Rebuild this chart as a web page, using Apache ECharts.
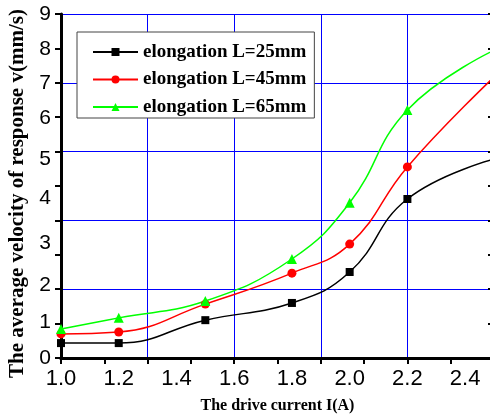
<!DOCTYPE html>
<html>
<head>
<meta charset="utf-8">
<script src="https://cdn.jsdelivr.net/npm/echarts@6/dist/echarts.min.js"></script>
<style>html,body{margin:0;padding:0;background:#fff}#c{width:490px;height:414px}</style>
</head>
<body>
<div id="c"></div>
<script>
// drive current I (A)
const xValues = [1.0, 1.2, 1.5, 1.8, 2.0, 2.2, 2.5];
// average velocity of response v (mm/s)
const velocityL25 = [0.39, 0.39, 0.99, 1.44, 2.25, 4.16, 5.2];
const velocityL45 = [0.63, 0.68, 1.41, 2.22, 2.98, 5.0, 7.35];
const velocityL65 = [0.76, 1.05, 1.49, 2.59, 4.06, 6.49, 8.05];
const seriesNames = ['elongation L=25mm', 'elongation L=45mm', 'elongation L=65mm'];
const xTickLabels = [1.0, 1.2, 1.4, 1.6, 1.8, 2.0, 2.2, 2.4];
const yTickLabels = ['0', '1', '2', '3', '4', '5', '6', '7', '8', '9'];
const yTickLabelAt = [0, 0.94, 1.91, 3.01, 4.19, 5.21, 6.28, 7.19, 8.08, 9];

const chart = echarts.init(document.getElementById('c'), null, {renderer: 'canvas'});

function buildData(ys) {
  return ys.map((y, i) => i === ys.length - 1 ? {value: [xValues[i], y], symbol: 'none'} : [xValues[i], y]);
}
function yLabel(v) {
  let best = 0, d = Infinity;
  yTickLabelAt.forEach((p, i) => { if (Math.abs(p - v) < d) { d = Math.abs(p - v); best = i; } });
  return yTickLabels[best];
}

const axisLineStyle = {color: '#000', width: 3};
const serif = '"Liberation Serif", "Times New Roman", serif';
const sans = '"Liberation Sans", Arial, sans-serif';

const colors = ['#000000', '#ff0000', '#00ff00'];
const symbols = ['rect', 'circle', 'triangle'];
const sizes = [8, 9, 10];
const allY = [velocityL25, velocityL45, velocityL65];

chart.setOption({
  animation: false,
  backgroundColor: '#fff',
  grid: {left: 61, top: 14, right: -4, bottom: 56, containLabel: false, outerBoundsMode: 'none'},
  legend: {
    left: 77, top: 32,
    orient: 'vertical',
    data: seriesNames,
    itemWidth: 45, itemHeight: 10, itemGap: 7.5,
    padding: [10, 8, 1, 15],
    backgroundColor: '#fff',
    borderColor: '#444', borderWidth: 1,
    textStyle: {fontFamily: serif, fontWeight: 'bold', fontSize: 19, color: '#000', lineHeight: 20}
  },
  xAxis: [
    {
      type: 'value', position: 'bottom', min: 1.0, max: 2.5, interval: 0.15,
      axisLine: {lineStyle: axisLineStyle},
      axisTick: {show: true, inside: false, length: 6, lineStyle: {color: '#000', width: 2}},
      axisLabel: {customValues: xTickLabels, formatter: v => v.toFixed(1), margin: 10,
        fontFamily: sans, fontSize: 22, color: '#000'},
      splitLine: {show: false},
      name: 'The drive current I(A)', nameLocation: 'middle', nameGap: 40,
      nameTextStyle: {fontFamily: serif, fontWeight: 'bold', fontSize: 16, color: '#000'}
    },
    {
      type: 'value', position: 'top', min: 1.0, max: 2.5, interval: 0.15,
      axisLine: {lineStyle: axisLineStyle},
      axisTick: {show: true, inside: true, length: 6, lineStyle: {color: '#000', width: 2}},
      axisLabel: {show: false}, splitLine: {show: false}
    },
    {
      type: 'value', position: 'bottom', min: 1.0, max: 2.5, interval: 0.3,
      axisLine: {show: false}, axisTick: {show: false}, axisLabel: {show: false},
      splitLine: {show: true, lineStyle: {color: '#0000ff', width: 1}}
    }
  ],
  yAxis: [
    {
      type: 'value', position: 'left', min: 0, max: 9, interval: 0.9,
      axisLine: {lineStyle: axisLineStyle},
      axisTick: {show: true, inside: false, length: 6, lineStyle: {color: '#000', width: 2}},
      axisLabel: {customValues: yTickLabelAt, formatter: yLabel, margin: 10,
        fontFamily: sans, fontSize: 21, color: '#000'},
      splitLine: {show: false},
      name: 'The average velocity of response v(mm/s)', nameLocation: 'middle', nameGap: 33,
      nameTextStyle: {fontFamily: serif, fontWeight: 'bold', fontSize: 21, color: '#000', padding: [0, 15, 0, 0]}
    },
    {
      type: 'value', position: 'right', min: 0, max: 9, interval: 0.9,
      axisLine: {lineStyle: axisLineStyle},
      axisTick: {show: true, inside: true, length: 6, lineStyle: {color: '#000', width: 2}},
      axisLabel: {show: false}, splitLine: {show: false}
    },
    {
      type: 'value', position: 'left', min: 0, max: 9, interval: 1.8,
      axisLine: {show: false}, axisTick: {show: false}, axisLabel: {show: false},
      splitLine: {show: true, lineStyle: {color: '#0000ff', width: 1}}
    }
  ],
  series: seriesNames.map((name, k) => ({
    name, type: 'line', xAxisIndex: 0, yAxisIndex: 0,
    data: buildData(allY[k]),
    smooth: 0.45,
    symbol: symbols[k], symbolSize: sizes[k],
    lineStyle: {color: colors[k], width: 1.5},
    itemStyle: {color: colors[k]},
    z: 3
  }))
});
</script>
</body>
</html>
